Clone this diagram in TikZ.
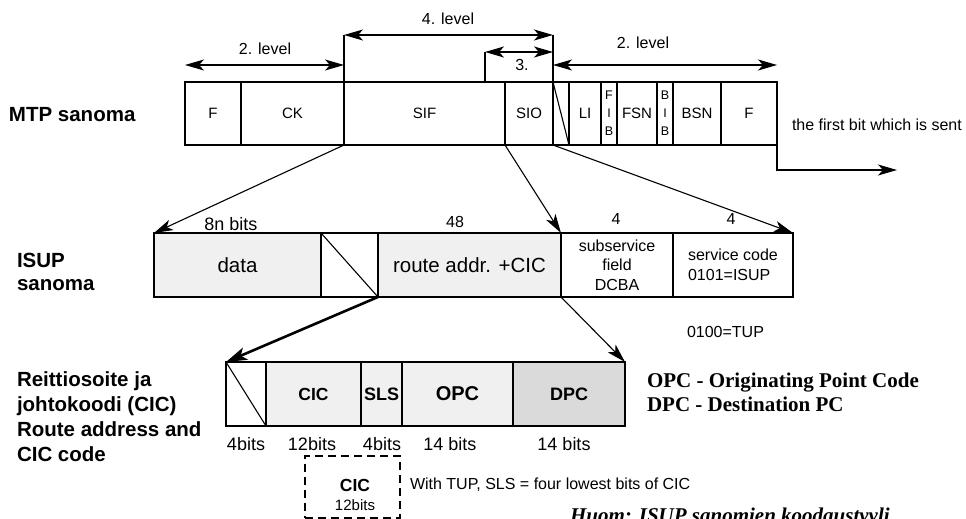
\documentclass[tikz,border=0pt]{standalone}
\usepackage{fontspec}
\setmainfont{Liberation Sans}
\newfontfamily\timesfont{Liberation Serif}
\usetikzlibrary{arrows.meta}
\definecolor{cellgray}{RGB}{240,240,240}
\definecolor{darkcell}{RGB}{218,218,218}
\tikzset{
  cell/.style={draw, line width=1.5pt, inner sep=0pt, outer sep=0pt, anchor=north west,
    font=\fontsize{15}{18}\selectfont},
  gcell/.style={cell, fill=cellgray},
  txt/.style={inner sep=0pt, outer sep=0pt},
  small/.style={txt, font=\fontsize{16}{19}\selectfont},
  bitlbl/.style={txt, font=\fontsize{18}{21}\selectfont},
  bigbold/.style={txt, anchor=base west, font=\fontsize{20.5}{24}\selectfont\bfseries},
  legend/.style={txt, anchor=base west, font=\fontsize{21}{25}\selectfont\timesfont\bfseries},
  thin/.style={line width=1.1pt},
  tipA/.tip={Stealth[length=19pt,width=11pt,inset=5pt]},
  arr/.style={thin, -tipA},
  darr/.style={thin, tipA-tipA},
}
\begin{document}
\begin{tikzpicture}[x=1pt,y=-1pt]
\useasboundingbox (0,0) rectangle (966,519);

% ---------- MTP row ----------
\node[cell, minimum width=56pt, minimum height=63pt] (F1) at (185,82) {F};
\node[cell, minimum width=103pt, minimum height=63pt] (CK) at (241,82) {CK};
\node[cell, minimum width=161pt, minimum height=63pt] (SIF) at (344,82) {SIF};
\node[cell, minimum width=48pt, minimum height=63pt] (SIO) at (505,82) {SIO};
\node[cell, minimum width=16pt, minimum height=63pt] (SL) at (553,82) {};
\node[cell, minimum width=32pt, minimum height=63pt] (LI) at (569,82) {LI};
\node[cell, minimum width=16pt, minimum height=63pt, align=center,
      font=\fontsize{12.5}{18}\selectfont] (FIB) at (601,82) {F\\I\\B};
\node[cell, minimum width=40pt, minimum height=63pt] (FSN) at (617,82) {FSN};
\node[cell, minimum width=16pt, minimum height=63pt, align=center,
      font=\fontsize{12.5}{18}\selectfont] (BIB) at (657,82) {B\\I\\B};
\node[cell, minimum width=48pt, minimum height=63pt] (BSN) at (673,82) {BSN};
\node[cell, minimum width=56pt, minimum height=63pt] (F2) at (721,82) {F};
\draw[thin] (SL.north west) -- (SL.south east);

\node[bigbold] (mtp) at (9,121) {MTP sanoma};

% level markers
\coordinate (yA) at (0,35);
\coordinate (yB) at (0,52);
\coordinate (yC) at (0,65);
\coordinate (c3) at (485,82);
\draw[thin] (CK.north east) -- (CK.north east |- yA);
\draw[thin] (SIO.north east) -- (SIO.north east |- yA);
\draw[darr] (CK.north east |- yA) -- (SIO.north east |- yA);
\draw[thin] (c3) -- (c3 |- yB);
\draw[darr] (c3 |- yB) -- (SIO.north east |- yB);
\draw[darr] (F1.north west |- yC) -- (CK.north east |- yC);
\draw[darr] (SL.north west |- yC) -- (F2.north east |- yC);
\node[small] (lv2a) at (265,49) {2. level};
\node[small] (lv4) at (448,19) {4. level};
\node[small] (lv3) at (522,65) {3.};
\node[small] (lv2b) at (643,43) {2. level};

% first bit
\coordinate (fb) at (897,170);
\draw[arr] (F2.south east) |- (fb);
\node[small, anchor=west] (first) at (792,125) {the first bit which is sent};

% ---------- ISUP row ----------
\node[gcell, minimum width=167pt, minimum height=64pt, font=\fontsize{20.5}{24}\selectfont] (data) at (154,233) {data};
\node[cell, minimum width=57pt, minimum height=64pt] (sl2) at (321,233) {};
\node[gcell, minimum width=183pt, minimum height=64pt, font=\fontsize{20.5}{24}\selectfont] (route) at (378,233) {route addr. +CIC};
\node[cell, minimum width=112pt, minimum height=64pt, align=center,
      font=\fontsize{16}{19.5}\selectfont] (sub) at (561,233) {subservice\\field\\DCBA};
\node[cell, minimum width=120pt, minimum height=64pt, align=left,
      font=\fontsize{16}{19.5}\selectfont] (serv) at (673,233) {service code\\0101=ISUP};
\draw[thin] (sl2.north west) -- (sl2.south east);

\node[bitlbl] (b8n) at (231,224) {8n bits};
\node[small] (b48) at (455,222) {48};
\node[small] (b4a) at (616,219) {4};
\node[small] (b4b) at (731,219) {4};
\node[small, anchor=west] (tup) at (687,332) {0100=TUP};

\node[bigbold] (isup1) at (17,267) {ISUP};
\node[bigbold] (isup2) at (17,290) {sanoma};

% MTP -> ISUP
\draw[arr] (CK.south east) -- (data.north west);
\draw[arr] (SIO.south west) -- (route.north east);
\draw[arr] (SIO.south east) -- (serv.north east);

% ---------- Route address row ----------
\node[cell, minimum width=40pt, minimum height=64pt] (rs) at (226,362) {};
\node[gcell, minimum width=95pt, minimum height=64pt, font=\fontsize{17.5}{21}\selectfont\bfseries] (cic) at (266,362) {CIC};
\node[gcell, minimum width=41pt, minimum height=64pt, font=\fontsize{18}{21}\selectfont\bfseries] (sls) at (361,362) {SLS};
\node[gcell, minimum width=111pt, minimum height=64pt, font=\fontsize{20}{24}\selectfont\bfseries] (opc) at (402,362) {OPC};
\node[cell, fill=darkcell, minimum width=112pt, minimum height=64pt, font=\fontsize{18}{21}\selectfont\bfseries] (dpc) at (513,362) {DPC};
\draw[thin] (rs.north west) -- (rs.south east);

\draw[line width=2.6pt, -{Stealth[length=21pt,width=13pt,inset=5pt]}] (sl2.south east) -- (rs.north west);
\draw[arr] (route.south east) -- (dpc.north east);

\node[bitlbl] (w1) at (246,444.5) {4bits};
\node[bitlbl] (w2) at (312,444.5) {12bits};
\node[bitlbl] (w3) at (382,444.5) {4bits};
\node[bitlbl] (w4) at (450,444.5) {14 bits};
\node[bitlbl] (w5) at (564,444.5) {14 bits};

\node[bigbold] (r1) at (17,386.5) {Reittiosoite ja};
\node[bigbold] (r2) at (17,411.5) {johtokoodi (CIC)};
\node[bigbold] (r3) at (17,436.5) {Route address and};
\node[bigbold] (r4) at (17,461.5) {CIC code};

\node[legend] (lg1) at (647,387) {OPC - Originating Point Code};
\node[legend] (lg2) at (647,411) {DPC - Destination PC};

% dashed CIC box
\node[draw, line width=1.5pt, dash pattern=on 8pt off 5pt, inner sep=0pt, anchor=north west,
      minimum width=95pt, minimum height=62pt] (cicbox) at (304,455) {};
\node[txt, font=\fontsize{17.5}{21}\selectfont\bfseries] (cict) at (355,485) {CIC};
\node[txt, font=\fontsize{15}{18}\selectfont] (cicb) at (355,505) {12bits};
\node[small, anchor=west] (note) at (410,485) {With TUP, SLS = four lowest bits of CIC};

\node[txt, anchor=base west, font=\fontsize{21}{25}\selectfont\timesfont\bfseries\itshape] (huom) at (570,522) {Huom: ISUP sanomien koodaustyyli};
\end{tikzpicture}
\end{document}
